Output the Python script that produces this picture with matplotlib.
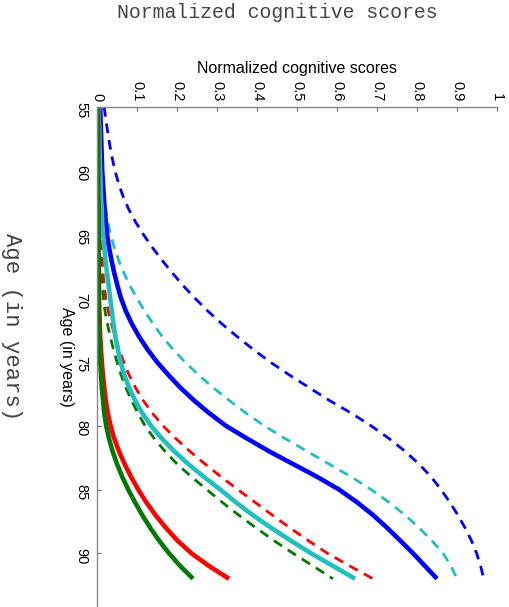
import matplotlib
matplotlib.use("Agg")
import matplotlib.pyplot as plt

ages = [55, 56, 57, 58, 59, 60, 61, 62, 63, 64, 65, 66, 67, 68, 69, 70, 71, 72, 73,
        74, 75, 76, 77, 78, 79, 80, 81, 82, 83, 84, 85, 86, 87, 88, 89, 90, 91, 92]

# Normalized cognitive scores per curve
blue_dash = [0.018, 0.022, 0.027, 0.032, 0.038, 0.045, 0.054, 0.065, 0.079, 0.096,
             0.116, 0.138, 0.162, 0.188, 0.215, 0.245, 0.277, 0.312, 0.350, 0.390,
             0.433, 0.480, 0.530, 0.580, 0.635, 0.685, 0.730, 0.770, 0.805, 0.835,
             0.860, 0.882, 0.902, 0.920, 0.936, 0.949, 0.959, 0.967]
cyan_dash = [0.008, 0.009, 0.010, 0.011, 0.012, 0.013, 0.015, 0.018, 0.022, 0.027,
             0.034, 0.043, 0.054, 0.067, 0.082, 0.100, 0.119, 0.140, 0.163, 0.190,
             0.220, 0.253, 0.290, 0.330, 0.372, 0.418, 0.470, 0.525, 0.580, 0.635,
             0.685, 0.730, 0.770, 0.805, 0.837, 0.865, 0.885, 0.900]
blue_solid = [0.008, 0.009, 0.010, 0.011, 0.012, 0.013, 0.015, 0.017, 0.019, 0.022,
              0.025, 0.030, 0.036, 0.043, 0.051, 0.060, 0.072, 0.087, 0.105, 0.126,
              0.150, 0.178, 0.208, 0.242, 0.280, 0.322, 0.375, 0.430, 0.490, 0.550,
              0.605, 0.650, 0.690, 0.725, 0.758, 0.790, 0.820, 0.850]
red_dash = [0.004, 0.004, 0.004, 0.005, 0.005, 0.005, 0.006, 0.007, 0.008, 0.009,
            0.010, 0.011, 0.013, 0.015, 0.018, 0.022, 0.028, 0.036, 0.045, 0.055,
            0.067, 0.080, 0.096, 0.115, 0.138, 0.165, 0.197, 0.232, 0.270, 0.310,
            0.352, 0.395, 0.438, 0.482, 0.528, 0.576, 0.632, 0.690]
cyan_solid = [0.005, 0.005, 0.006, 0.006, 0.007, 0.008, 0.009, 0.010, 0.012, 0.013,
              0.015, 0.018, 0.021, 0.025, 0.029, 0.033, 0.037, 0.041, 0.046, 0.052,
              0.059, 0.068, 0.080, 0.095, 0.113, 0.135, 0.162, 0.193, 0.228, 0.267,
              0.308, 0.347, 0.389, 0.435, 0.484, 0.535, 0.590, 0.645]
green_dash = [0.003, 0.003, 0.003, 0.003, 0.004, 0.004, 0.004, 0.005, 0.005, 0.006,
              0.007, 0.008, 0.009, 0.011, 0.013, 0.016, 0.020, 0.026, 0.033, 0.041,
              0.050, 0.060, 0.072, 0.086, 0.102, 0.120, 0.143, 0.170, 0.200, 0.236,
              0.274, 0.313, 0.354, 0.397, 0.442, 0.490, 0.540, 0.590]
red_solid = [0.003, 0.003, 0.003, 0.003, 0.003, 0.003, 0.003, 0.003, 0.004, 0.004,
             0.004, 0.004, 0.004, 0.005, 0.005, 0.005, 0.006, 0.007, 0.008, 0.010,
             0.012, 0.015, 0.018, 0.022, 0.027, 0.034, 0.043, 0.055, 0.069, 0.085,
             0.103, 0.123, 0.146, 0.172, 0.201, 0.236, 0.280, 0.330]
green_solid = [0.002, 0.002, 0.002, 0.002, 0.002, 0.002, 0.002, 0.002, 0.003, 0.003,
               0.003, 0.003, 0.003, 0.003, 0.004, 0.004, 0.004, 0.005, 0.006, 0.007,
               0.008, 0.010, 0.012, 0.015, 0.018, 0.023, 0.030, 0.039, 0.050, 0.063,
               0.078, 0.095, 0.113, 0.133, 0.155, 0.180, 0.208, 0.240]

score_ticks = [0, 0.1, 0.2, 0.3, 0.4, 0.5, 0.6, 0.7, 0.8, 0.9, 1]
score_labels = ["0", "0.1", "0.2", "0.3", "0.4", "0.5", "0.6", "0.7", "0.8", "0.9", "1"]
age_ticks = [55, 60, 65, 70, 75, 80, 85, 90]

plt.rcParams["font.family"] = ["Liberation Sans", "DejaVu Sans"]

fig = plt.figure(figsize=(5.09, 6.07), dpi=100)
fig.patch.set_facecolor("white")
ax = fig.add_axes([97 / 509, 0.0, 400 / 509, 500 / 607])

dash = (3.5, 2.5)
ax.plot(blue_dash, ages, color="#0000FF", lw=2.0, dashes=dash)
ax.plot(cyan_dash, ages, color="#1FBFBF", lw=2.0, dashes=dash)
ax.plot(red_dash, ages, color="#FF0000", lw=2.0, dashes=dash)
ax.plot(green_dash, ages, color="#007A00", lw=2.0, dashes=dash)
ax.plot(blue_solid, ages, color="#0000FF", lw=3.3, solid_capstyle="butt")
ax.plot(cyan_solid, ages, color="#1FBFBF", lw=3.3, solid_capstyle="butt")
ax.plot(red_solid, ages, color="#FF0000", lw=3.3, solid_capstyle="butt")
ax.plot(green_solid, ages, color="#007A00", lw=3.3, solid_capstyle="butt")

ax.set_xlim(0, 1)
ax.set_ylim(55 + 500 / 12.75, 55)

for side in ["right", "bottom"]:
    ax.spines[side].set_visible(False)
for side in ["top", "left"]:
    ax.spines[side].set_color("#888888")
    ax.spines[side].set_linewidth(1.0)

ax.xaxis.tick_top()
ax.xaxis.set_label_position("top")
ax.set_xticks(score_ticks)
ax.set_xticklabels(score_labels, rotation=-90, fontsize=10.5)
ax.set_yticks(age_ticks)
ax.set_yticklabels([str(a) for a in age_ticks], rotation=-90, fontsize=10.5)
ax.tick_params(axis="both", direction="in", length=3, width=0.8, color="#666666")
ax.tick_params(axis="x", pad=4)
ax.tick_params(axis="y", pad=6)

ax.set_xlabel("Normalized cognitive scores", fontsize=11.5, labelpad=6)
ax.set_ylabel("Age (in years)", fontsize=11.5, rotation=-90, va="center")
ax.yaxis.set_label_coords(-31 / 400, 0.5)

# outer labels (monospace, as in the reference)
fig.text(277 / 509, 1 - 12 / 607, "Normalized cognitive scores", family="Liberation Mono",
         fontsize=14.3, color="#444444", ha="center", va="center")
fig.text(11 / 509, 1 - 327 / 607, "Age (in years)", family="Liberation Mono",
         fontsize=16, color="#444444", ha="center", va="center", rotation=-90)

fig.savefig("out.png", dpi=100, facecolor="white")
